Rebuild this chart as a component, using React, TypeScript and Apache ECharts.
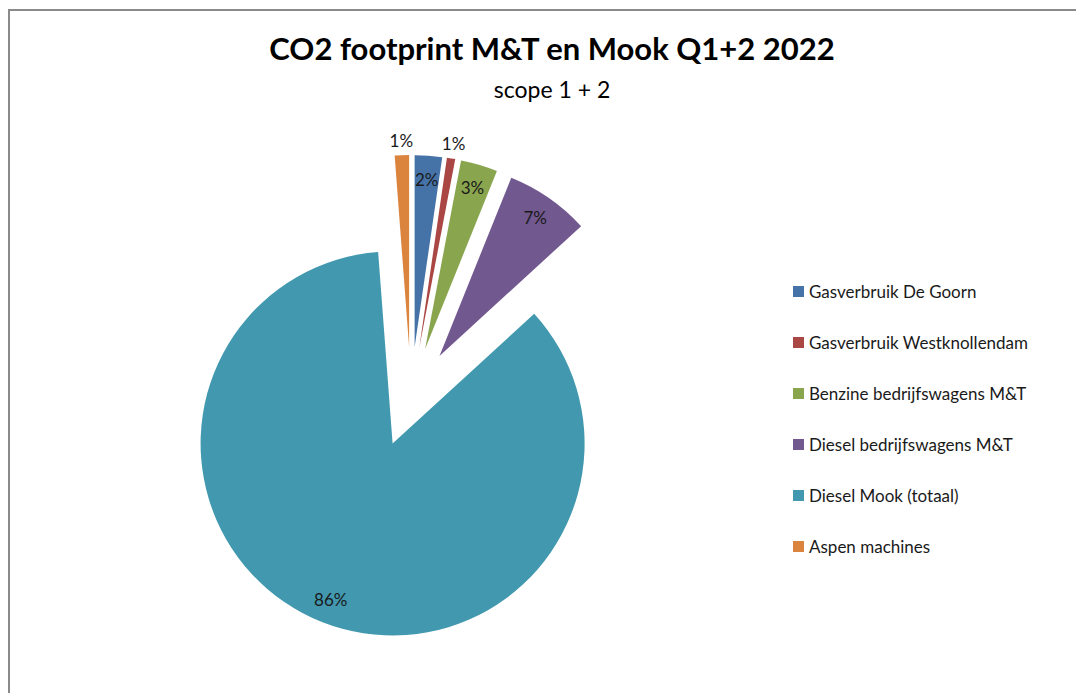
import React, { useEffect, useRef } from "react";
import * as echarts from "echarts";

const categories = [
  "Gasverbruik De Goorn",
  "Gasverbruik Westknollendam",
  "Benzine bedrijfswagens M&T",
  "Diesel bedrijfswagens M&T",
  "Diesel Mook (totaal)",
  "Aspen machines",
];
const values = [2.3, 0.7, 3.1, 7.1, 85.6, 1.2];
const colors = ["#4572A7", "#AA4643", "#89A54E", "#71588F", "#4198AF", "#DB843D"];
const outsideLabel = [false, true, false, false, false, true];

const titleText = "CO2 footprint M&T en Mook Q1+2 2022";
const subtitleText = "scope 1 + 2";

const FONT = "Lato, 'Open Sans', sans-serif";

export default function App() {
  const ref = useRef<HTMLDivElement>(null);
  useEffect(() => {
    if (!ref.current) return;
    const chart = echarts.init(ref.current, undefined, { renderer: "svg" });
    const total = values.reduce((a, b) => a + b, 0);
    const pct = (v: number) => Math.round((v / total) * 100) + "%";

    const center = [411, 397];
    const R = 192;
    const offset = 50;

    const base = {
      type: "pie",
      center,
      startAngle: 90,
      clockwise: true,
      selectedMode: "multiple",
      selectedOffset: offset,
      avoidLabelOverlap: false,
      silent: true,
      emphasis: { disabled: true },
      labelLine: { show: false },
    };
    const labelStyle = {
      position: "inside",
      fontFamily: FONT,
      fontSize: 17,
      color: "#1a1a1a",
      formatter: (p: any) => pct(p.value),
    };

    chart.setOption({
      animation: false,
      backgroundColor: "#ffffff",
      title: [
        {
          text: titleText,
          left: 547,
          top: 27,
          textAlign: "center",
          textStyle: { fontFamily: FONT, fontSize: 31, fontWeight: "bold", color: "#000" },
        },
        {
          text: subtitleText,
          left: 547,
          top: 72,
          textAlign: "center",
          textStyle: { fontFamily: FONT, fontSize: 23, fontWeight: "normal", color: "#000" },
        },
      ],
      legend: {
        orient: "vertical",
        left: 788,
        top: 278,
        itemWidth: 11,
        itemHeight: 11,
        itemGap: 34,
        icon: "rect",
        data: categories,
        selectedMode: false,
        textStyle: { fontFamily: FONT, fontSize: 17, lineHeight: 17, color: "#1a1a1a" },
      },
      graphic: [
        {
          type: "polyline",
          shape: { points: [[9, 700], [9, 10], [1080, 10]] },
          style: { stroke: "#8a8a8a", lineWidth: 2, fill: "none" },
          silent: true,
        },
      ],
      series: [
        {
          ...base,
          name: "main",
          radius: [0, R],
          label: { show: false },
          data: categories.map((name, i) => ({
            name,
            value: values[i],
            selected: true,
            itemStyle: { color: colors[i] },
          })),
        },
        {
          ...base,
          name: "insideLabels",
          radius: [0, 330],
          itemStyle: { color: "rgba(0,0,0,0)" },
          label: labelStyle,
          data: categories.map((name, i) => ({
            name,
            value: values[i],
            selected: true,
            label: { show: !outsideLabel[i] },
          })),
        },
        {
          ...base,
          name: "outsideLabels",
          radius: [0, 408],
          itemStyle: { color: "rgba(0,0,0,0)" },
          label: labelStyle,
          data: categories.map((name, i) => ({
            name,
            value: values[i],
            selected: true,
            label: { show: outsideLabel[i] },
          })),
        },
      ],
    });
    return () => chart.dispose();
  }, []);
  return (
    <div
      style={{ position: "fixed", left: 0, top: 0, width: 1076, height: 693, overflow: "hidden", background: "#fff" }}
    >
      <div ref={ref} style={{ width: 1076, height: 693 }} />
    </div>
  );
}
